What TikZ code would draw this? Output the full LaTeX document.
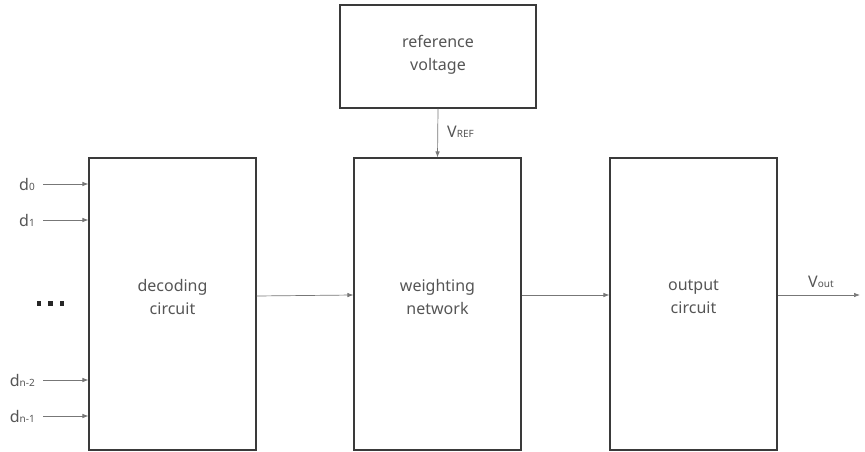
\documentclass[tikz,border=0pt]{standalone}
\usepackage{fontspec}
\setmainfont{Noto Sans}
\usetikzlibrary{arrows.meta}
\definecolor{boxgray}{HTML}{3A3A3A}
\definecolor{txtgray}{HTML}{555555}
\definecolor{arrgray}{HTML}{777777}
\tikzset{
	block/.style={draw=boxgray, line width=1.1pt, inner sep=0pt},
	blocktext/.style={align=center, inner sep=0pt, text=txtgray,
		font=\fontsize{16}{23}\selectfont},
	wire/.style={draw=arrgray, line width=0.7pt, -{Latex[length=6pt,width=4.5pt]}},
	sig/.style={text=txtgray, inner sep=0pt, font=\fontsize{16}{16}\selectfont}
}
\newcommand{\sub}[1]{{\fontsize{10}{10}\selectfont #1}}
\begin{document}
\begin{tikzpicture}[x=1pt,y=-1pt]
				\useasboundingbox (0,0) rectangle (865,452);
				\node[block, minimum width=196pt, minimum height=103pt,
					label={[blocktext,yshift=2pt]center:reference\\voltage}] (ref) at (438,56.5) {};
				\node[block, minimum width=167pt, minimum height=292pt,
					label={[blocktext,yshift=7pt]center:decoding\\circuit}] (dec) at (172.5,304) {};
				\node[block, minimum width=167pt, minimum height=292pt,
					label={[blocktext,yshift=7pt]center:weighting\\network}] (wei) at (437.5,304) {};
				\node[block, minimum width=167pt, minimum height=292pt,
					label={[blocktext,yshift=7pt]center:output\\circuit}] (out) at (693.5,304) {};
				\path
				(43,184) coordinate (in0)
				(43,220) coordinate (in1)
				(43,380) coordinate (in2)
				(43,416) coordinate (in3)
				(860,295) coordinate (vo);
				% inputs
				\draw[wire] (in0) -- (in0 -| dec.west);
				\draw[wire] (in1) -- (in1 -| dec.west);
				\draw[wire] (in2) -- (in2 -| dec.west);
				\draw[wire] (in3) -- (in3 -| dec.west);
				\node[sig, anchor=base east] (l0) at ([xshift=-8pt,yshift=-6pt]in0) {d\sub{0}};
				\node[sig, anchor=base east] (l1) at ([xshift=-8pt,yshift=-6pt]in1) {d\sub{1}};
				\node[sig, anchor=base east] (l2) at ([xshift=-8pt,yshift=-6pt]in2) {d\sub{n-2}};
				\node[sig, anchor=base east] (l3) at ([xshift=-8pt,yshift=-6pt]in3) {d\sub{n-1}};
				\foreach \i in {0,1,2} \fill[black!85] (36.5+11.5*\i,301) rectangle ++(4.5,4.5);
				% signal path
				\draw[wire] ([yshift=8pt]dec.east) -- ([yshift=9pt]wei.west);
				\draw[wire] ([yshift=9pt]wei.east) -- ([yshift=9pt]out.west);
				\draw[wire] (ref.south) -- (wei.north);
				\draw[wire] (out.east |- vo) -- (vo);
				\node[sig, anchor=base west] (vref) at (447,137) {V\sub{REF}};
				\node[sig, anchor=base west] (vout) at (808,287) {V\sub{out}};
			\end{tikzpicture}
\end{document}
